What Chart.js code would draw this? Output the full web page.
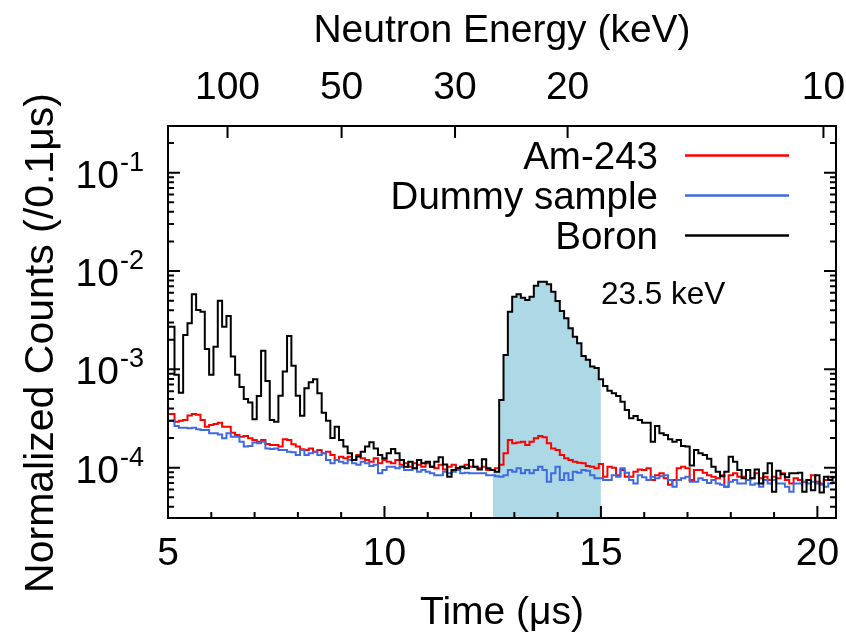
<!DOCTYPE html>
<html>
<head>
<meta charset="utf-8">
<script src="https://cdn.jsdelivr.net/npm/chart.js@4.4.1/dist/chart.umd.min.js"></script>
<style>
  html, body { margin: 0; padding: 0; background: #fff; }
  #wrap { width: 846px; height: 641px; }
</style>
</head>
<body>
<div id="wrap"><canvas id="tof" width="846" height="641"></canvas></div>
<script>
// Time-of-flight bins (us), 0.1 us wide
const timeBins = [
  5.0, 5.1, 5.2, 5.3, 5.4, 5.5, 5.6, 5.7, 5.8, 5.9,
  6.0, 6.1, 6.2, 6.3, 6.4, 6.5, 6.6, 6.7, 6.8, 6.9,
  7.0, 7.1, 7.2, 7.3, 7.4, 7.5, 7.6, 7.7, 7.8, 7.9,
  8.0, 8.1, 8.2, 8.3, 8.4, 8.5, 8.6, 8.7, 8.8, 8.9,
  9.0, 9.1, 9.2, 9.3, 9.4, 9.5, 9.6, 9.7, 9.8, 9.9,
  10.0, 10.1, 10.2, 10.3, 10.4, 10.5, 10.6, 10.7, 10.8, 10.9,
  11.0, 11.1, 11.2, 11.3, 11.4, 11.5, 11.6, 11.7, 11.8, 11.9,
  12.0, 12.1, 12.2, 12.3, 12.4, 12.5, 12.6, 12.7, 12.8, 12.9,
  13.0, 13.1, 13.2, 13.3, 13.4, 13.5, 13.6, 13.7, 13.8, 13.9,
  14.0, 14.1, 14.2, 14.3, 14.4, 14.5, 14.6, 14.7, 14.8, 14.9,
  15.0, 15.1, 15.2, 15.3, 15.4, 15.5, 15.6, 15.7, 15.8, 15.9,
  16.0, 16.1, 16.2, 16.3, 16.4, 16.5, 16.6, 16.7, 16.8, 16.9,
  17.0, 17.1, 17.2, 17.3, 17.4, 17.5, 17.6, 17.7, 17.8, 17.9,
  18.0, 18.1, 18.2, 18.3, 18.4, 18.5, 18.6, 18.7, 18.8, 18.9,
  19.0, 19.1, 19.2, 19.3, 19.4, 19.5, 19.6, 19.7, 19.8, 19.9,
  20.0, 20.1, 20.2, 20.3, 20.4
];

const am243Counts = [
  3.52e-4, 3.52e-4, 2.94e-4, 3.01e-4, 3.06e-4, 3.4e-4, 3.52e-4, 3.45e-4, 3.06e-4, 2.61e-4,
  2.72e-4, 2.78e-4, 2.87e-4, 2.61e-4, 2.61e-4, 2.27e-4, 2.15e-4, 2.07e-4, 2.1e-4, 1.99e-4,
  1.91e-4, 1.84e-4, 1.91e-4, 1.74e-4, 1.7e-4, 1.7e-4, 1.64e-4, 1.95e-4, 1.91e-4, 1.73e-4,
  1.64e-4, 1.54e-4, 1.51e-4, 1.57e-4, 1.45e-4, 1.51e-4, 1.4e-4, 1.45e-4, 1.35e-4, 1.2e-4,
  1.29e-4, 1.25e-4, 1.29e-4, 1.2e-4, 1.35e-4, 1.25e-4, 1.2e-4, 1.15e-4, 1.25e-4, 1.11e-4,
  1.2e-4, 1.15e-4, 1.11e-4, 1.2e-4, 1.07e-4, 1.11e-4, 1.02e-4, 1.11e-4, 1.07e-4, 1.02e-4,
  1.11e-4, 1.02e-4, 9.9e-5, 1.07e-4, 9.6e-5, 1.02e-4, 1.07e-4, 9.9e-5, 1.02e-4, 1.07e-4,
  1.02e-4, 1.02e-4, 9.9e-5, 1.02e-4, 9.5e-5, 9.5e-5, 9.9e-5, 1.07e-4, 1.4e-4, 1.91e-4,
  1.77e-4, 1.8e-4, 1.84e-4, 1.7e-4, 1.84e-4, 1.99e-4, 2.1e-4, 2.04e-4, 1.77e-4, 1.57e-4,
  1.51e-4, 1.35e-4, 1.25e-4, 1.2e-4, 1.15e-4, 1.12e-4, 1.11e-4, 1.04e-4, 1.02e-4, 9.9e-5,
  1.09e-4, 8.1e-5, 1.02e-4, 1.0e-4, 8.4e-5, 9.5e-5, 8.1e-5, 8.1e-5, 9.1e-5, 9.6e-5,
  9.5e-5, 9.9e-5, 7.5e-5, 8.4e-5, 8.8e-5, 7.8e-5, 6.7e-5, 7.5e-5, 9.9e-5, 1.02e-4,
  9.9e-5, 7.5e-5, 9.5e-5, 9.5e-5, 8.9e-5, 8.4e-5, 8.1e-5, 7.8e-5, 8.4e-5, 6.4e-5,
  8.4e-5, 8.8e-5, 8.1e-5, 8.1e-5, 7.5e-5, 7.8e-5, 8.8e-5, 7.8e-5, 8.1e-5, 7.5e-5,
  8.1e-5, 7.8e-5, 8.8e-5, 7.5e-5, 6.9e-5, 7.8e-5, 7.5e-5, 7.2e-5, 7.5e-5, 8.4e-5,
  7.2e-5, 6.9e-5, 7.5e-5, 8.1e-5, 8.1e-5
];

const dummyCounts = [
  3.01e-4, 3.01e-4, 2.66e-4, 2.55e-4, 2.55e-4, 2.52e-4, 2.55e-4, 2.46e-4, 2.42e-4, 2.42e-4,
  2.24e-4, 2.24e-4, 2.18e-4, 1.99e-4, 2.24e-4, 2.07e-4, 2.07e-4, 1.84e-4, 1.64e-4, 1.66e-4,
  1.8e-4, 1.77e-4, 1.84e-4, 1.57e-4, 1.55e-4, 1.57e-4, 1.51e-4, 1.51e-4, 1.45e-4, 1.44e-4,
  1.35e-4, 1.51e-4, 1.35e-4, 1.4e-4, 1.45e-4, 1.35e-4, 1.4e-4, 1.2e-4, 1.11e-4, 1.2e-4,
  1.15e-4, 1.11e-4, 1.2e-4, 1.11e-4, 1.07e-4, 1.15e-4, 1.11e-4, 1.04e-4, 1.07e-4, 8.8e-5,
  9.5e-5, 1.02e-4, 1.02e-4, 9.9e-5, 1.02e-4, 9.5e-5, 9.5e-5, 9.9e-5, 9.1e-5, 9.5e-5,
  9.1e-5, 8.8e-5, 8.4e-5, 8.4e-5, 9.1e-5, 8.8e-5, 9.1e-5, 9.5e-5, 8.8e-5, 8.9e-5,
  8.8e-5, 8.8e-5, 8.8e-5, 8.8e-5, 8.4e-5, 8.4e-5, 8.2e-5, 8.1e-5, 8.4e-5, 9.5e-5,
  9.1e-5, 9.9e-5, 8.8e-5, 9.5e-5, 8.8e-5, 9.5e-5, 1.02e-4, 9.5e-5, 7.2e-5, 8.8e-5,
  1.02e-4, 7.5e-5, 8.8e-5, 7.5e-5, 9.1e-5, 8.9e-5, 9.5e-5, 9.3e-5, 8.4e-5, 7.8e-5,
  7.8e-5, 7.5e-5, 7.5e-5, 8.4e-5, 8.1e-5, 9.9e-5, 8.9e-5, 7.5e-5, 6.9e-5, 8.4e-5,
  8.0e-5, 7.5e-5, 8.1e-5, 7.8e-5, 8.2e-5, 8.4e-5, 7.5e-5, 6.4e-5, 7.5e-5, 7.8e-5,
  8.1e-5, 7.2e-5, 7.2e-5, 7.8e-5, 7.5e-5, 7.0e-5, 7.5e-5, 6.9e-5, 6.7e-5, 6.4e-5,
  7.2e-5, 7.5e-5, 6.9e-5, 6.9e-5, 7.5e-5, 6.7e-5, 6.9e-5, 6.4e-5, 7.5e-5, 6.9e-5,
  7.5e-5, 6.9e-5, 6.9e-5, 6.4e-5, 5.7e-5, 6.9e-5, 6.9e-5, 7.2e-5, 6.9e-5, 7.2e-5,
  6.9e-5, 6.7e-5, 6.4e-5, 6.9e-5, 7.2e-5
];

const boronCounts = [
  2.72e-3, 2.72e-3, 8.8e-4, 5.8e-4, 2.24e-3, 2.94e-3, 5.81e-3, 4.02e-3, 3.86e-3, 1.61e-3,
  8.8e-4, 1.7e-3, 5.0e-3, 2.72e-3, 3.49e-3, 1.35e-3, 8.8e-4, 6.6e-4, 5.0e-4, 4.6e-4,
  3.11e-4, 5.36e-4, 1.55e-3, 7.62e-4, 3.06e-4, 2.94e-4, 5.4e-4, 9.5e-4, 2.19e-3, 1.09e-3,
  5.4e-4, 3.38e-4, 6.42e-4, 7.39e-4, 7.93e-4, 5.71e-4, 3.63e-4, 3.01e-4, 2.0e-4, 2.61e-4,
  1.91e-4, 1.64e-4, 1.4e-4, 1.2e-4, 1.3e-4, 1.45e-4, 1.64e-4, 1.81e-4, 1.57e-4, 1.35e-4,
  1.25e-4, 1.4e-4, 1.55e-4, 1.4e-4, 1.2e-4, 1.02e-4, 1.15e-4, 9.9e-5, 1.2e-4, 1.11e-4,
  1.15e-4, 1.02e-4, 1.15e-4, 1.28e-4, 1.08e-4, 8.1e-5, 9.5e-5, 9.9e-5, 1.02e-4, 9.9e-5,
  1.2e-4, 1.02e-4, 9.6e-5, 1.22e-4, 9.9e-5, 9.5e-5, 9.1e-5, 4.88e-4, 1.4e-3, 3.86e-3,
  5.49e-3, 5.81e-3, 5.36e-3, 5.08e-3, 5.49e-3, 7.1e-3, 7.8e-3, 7.8e-3, 7.34e-3, 6.17e-3,
  4.96e-3, 3.93e-3, 3.31e-3, 2.62e-3, 2.15e-3, 1.84e-3, 1.37e-3, 1.25e-3, 1.07e-3, 1.03e-3,
  7.93e-4, 6.78e-4, 6.07e-4, 5.71e-4, 5.36e-4, 4.69e-4, 3.86e-4, 3.18e-4, 3.36e-4, 3.06e-4,
  2.87e-4, 2.87e-4, 1.84e-4, 2.66e-4, 2.24e-4, 2.15e-4, 1.95e-4, 1.84e-4, 1.91e-4, 1.66e-4,
  1.64e-4, 1.05e-4, 1.51e-4, 1.4e-4, 1.35e-4, 1.23e-4, 1.02e-4, 9.1e-5, 8.2e-5, 9.1e-5,
  1.29e-4, 1.15e-4, 9.5e-5, 7.8e-5, 9.5e-5, 7.8e-5, 9.6e-5, 6.9e-5, 8.8e-5, 1.11e-4,
  5.7e-5, 9.3e-5, 8.6e-5, 8.0e-5, 8.8e-5, 8.8e-5, 8.9e-5, 5.7e-5, 7.5e-5, 5.9e-5,
  8.4e-5, 5.6e-5, 8.1e-5, 7.5e-5, 8.0e-5
];

// shaded window around the 23.5 keV resonance (us)
const shadeWindow = [12.5, 15.0];

// bottom axis
const timeTicks = [5, 10, 15, 20];
const timeMinorTicks = [6, 7, 8, 9, 11, 12, 13, 14, 16, 17, 18, 19];

// top axis: neutron energy labels and where they sit on the time axis
const energyLabels = ["100", "50", "30", "20", "10"];
const energyTickTimes = [6.375, 9.01, 11.63, 14.23, 20.14];

// y axis decades that get a label
const yDecades = [-1, -2, -3, -4];

const FONT = "'Liberation Sans', Arial, Helvetica, sans-serif";
const X_MIN = 5, X_MAX = 20.43;
const Y_MIN = 3.08e-5, Y_MAX = 0.2985;
const MAJOR = 12, MINOR = 6;

function toPoints(values) {
  return values.map((v, i) => ({ x: timeBins[i], y: v }));
}

function shadePoints() {
  const pts = [];
  timeBins.forEach((t, i) => {
    if (t >= shadeWindow[0] - 1e-6 && t <= shadeWindow[1] + 1e-6) pts.push({ x: t, y: boronCounts[i] });
  });
  return pts;
}

// labels near the ends must not shrink the plot box
function fixHorizontal(height) {
  return (s) => {
    s.height = height;
    s.paddingLeft = 0;
    s.paddingRight = 0;
  };
}

/* ticks, frame, y labels, legend, note */

const gnuplotDecor = {
  id: "gnuplotDecor",
  afterDatasetsDraw(chart) {
    const { ctx, chartArea: a, scales } = chart;
    const x = scales.x, x2 = scales.x2, y = scales.y;
    ctx.save();
    ctx.strokeStyle = "#000";
    ctx.lineWidth = 2;
    ctx.beginPath();

    timeTicks.forEach((t) => {
      const px = x.getPixelForValue(t);
      ctx.moveTo(px, a.bottom);
      ctx.lineTo(px, a.bottom - MAJOR);
    });
    timeMinorTicks.forEach((t) => {
      const px = x.getPixelForValue(t);
      ctx.moveTo(px, a.bottom);
      ctx.lineTo(px, a.bottom - MINOR);
    });
    energyTickTimes.forEach((t) => {
      const px = x2.getPixelForValue(t);
      ctx.moveTo(px, a.top);
      ctx.lineTo(px, a.top + MAJOR);
    });

    for (let e = -5; e <= 0; e++) {
      for (let m = 1; m <= 9; m++) {
        const v = m * Math.pow(10, e);
        if (v < Y_MIN || v > Y_MAX) continue;
        const py = y.getPixelForValue(v);
        const len = m === 1 ? MAJOR : MINOR;
        ctx.moveTo(a.left, py);
        ctx.lineTo(a.left + len, py);
        ctx.moveTo(a.right, py);
        ctx.lineTo(a.right - len, py);
      }
    }
    ctx.stroke();
    ctx.strokeRect(a.left, a.top, a.right - a.left, a.bottom - a.top);

    // y tick labels 10^n
    ctx.fillStyle = "#000";
    ctx.textBaseline = "alphabetic";
    const labelRight = a.left - 24;
    yDecades.forEach((e) => {
      const py = y.getPixelForValue(Math.pow(10, e));
      const expText = String(e);
      ctx.font = "27px " + FONT;
      const expW = ctx.measureText(expText).width;
      ctx.textAlign = "left";
      ctx.fillText(expText, labelRight - expW, py - 2);
      ctx.font = "39px " + FONT;
      ctx.textAlign = "right";
      ctx.fillText("10", labelRight - expW - 1, py + 15);
    });

    // y title
    ctx.save();
    ctx.translate(53, 343);
    ctx.rotate(-Math.PI / 2);
    ctx.font = "41px " + FONT;
    ctx.textAlign = "center";
    ctx.fillText("Normalized Counts (/0.1\u03bcs)", 0, 0);
    ctx.restore();

    // legend, gnuplot style: text then sample line
    ctx.font = "38.5px " + FONT;
    ctx.textAlign = "right";
    const legendItems = chart.data.datasets.filter((d) => d.label);
    legendItems.forEach((d, i) => {
      const base = 169 + i * 40;
      ctx.fillText(d.label, 658, base);
      ctx.strokeStyle = d.borderColor;
      ctx.lineWidth = 2.5;
      ctx.beginPath();
      ctx.moveTo(685, base - 13.5);
      ctx.lineTo(789, base - 13.5);
      ctx.stroke();
    });

    // resonance note
    ctx.fillStyle = "#000";
    ctx.font = "31.5px " + FONT;
    ctx.textAlign = "left";
    ctx.fillText("23.5 keV", x.getPixelForValue(shadeWindow[1]), 304);
    ctx.restore();
  }
};

const axisFont = { family: FONT, size: 39 };

new Chart(document.getElementById("tof"), {
  type: "line",
  data: {
    datasets: [
      { label: "Am-243", data: toPoints(am243Counts), borderColor: "#ff0000", order: 3 },
      { label: "Dummy sample", data: toPoints(dummyCounts), borderColor: "#4169e1", order: 2 },
      { label: "Boron", data: toPoints(boronCounts), borderColor: "#000000", order: 1 },
      {
        label: "", data: shadePoints(), borderColor: "rgba(0,0,0,0)", borderWidth: 0,
        backgroundColor: "#add8e6", fill: "start", order: 10
      }
    ]
  },
  options: {
    responsive: false,
    animation: false,
    devicePixelRatio: 1,
    layout: { padding: { left: 0, right: 10, top: 0, bottom: 0 } },
    elements: {
      point: { radius: 0 },
      line: { borderWidth: 2, stepped: "middle", tension: 0 }
    },
    plugins: { legend: { display: false }, tooltip: { enabled: false } },
    scales: {
      x: {
        type: "linear",
        position: "bottom",
        min: X_MIN,
        max: X_MAX,
        grid: { display: false, drawTicks: false },
        border: { display: false },
        afterBuildTicks: (s) => { s.ticks = timeTicks.map((v) => ({ value: v })); },
        ticks: { font: axisFont, color: "#000", padding: 13, maxRotation: 0, autoSkip: false, callback: (v) => String(v) },
        title: { display: true, text: "Time (\u03bcs)", font: axisFont, color: "#000", padding: { top: 0, bottom: 4 } },
        afterFit: fixHorizontal(123)
      },
      x2: {
        type: "linear",
        position: "top",
        min: X_MIN,
        max: X_MAX,
        grid: { display: false, drawTicks: false },
        border: { display: false },
        afterBuildTicks: (s) => { s.ticks = energyTickTimes.map((v) => ({ value: v })); },
        ticks: { font: axisFont, color: "#000", padding: 14, maxRotation: 0, autoSkip: false, callback: (v, i) => energyLabels[i] },
        title: { display: true, text: "Neutron Energy (keV)", font: axisFont, color: "#000", padding: { top: 8, bottom: 0 } },
        afterFit: fixHorizontal(126)
      },
      y: {
        type: "logarithmic",
        min: Y_MIN,
        max: Y_MAX,
        grid: { display: false, drawTicks: false },
        border: { display: false },
        ticks: { display: false },
        afterFit: (s) => { s.width = 168; }
      }
    }
  },
  plugins: [gnuplotDecor]
});
</script>
</body>
</html>
